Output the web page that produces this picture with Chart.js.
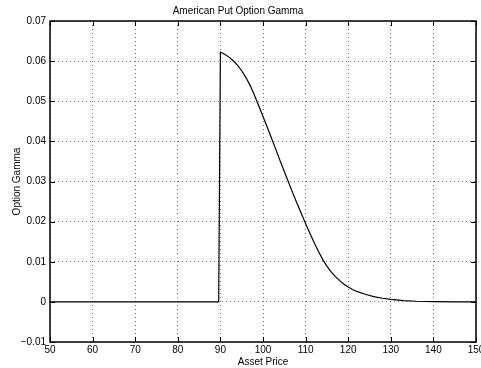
<!DOCTYPE html>
<html>
<head>
<meta charset="utf-8">
<script src="https://cdn.jsdelivr.net/npm/chart.js@4/dist/chart.umd.min.js"></script>
<style>
  html, body { margin: 0; padding: 0; background: #fff; }
  #wrap { width: 481px; height: 368px; }
</style>
</head>
<body>
<div id="wrap"><canvas id="gammaChart" width="481" height="368"></canvas></div>
<script>
// asset price (x) and gamma (y)
const assetPrice = [50, 89.6, 90, 91, 92, 93, 94, 95, 96, 97, 98, 99, 100, 101, 102, 103, 104, 105,
  106, 107, 108, 109, 110, 111, 112, 113, 114, 115, 116, 117, 118, 119, 120, 121, 122, 124, 126, 128,
  130, 133, 136, 140, 145, 150];
const gamma = [0, 0, 0.0622, 0.0617, 0.0610, 0.0601, 0.0590, 0.0576, 0.0559, 0.0539, 0.0515, 0.0489,
  0.0462, 0.0435, 0.0408, 0.0380, 0.0352, 0.0325, 0.0298, 0.0271, 0.0245, 0.0220, 0.0195, 0.0171,
  0.0148, 0.0126, 0.0106, 0.0089, 0.0075, 0.0063, 0.0053, 0.0044, 0.0037, 0.0031, 0.0026, 0.0019,
  0.0013, 0.0009, 0.0006, 0.0003, 0.00015, 0.00006, 0.00001, 0];

const xTicks = [50, 60, 70, 80, 90, 100, 110, 120, 130, 140, 150];
const yTicks = [-0.01, 0, 0.01, 0.02, 0.03, 0.04, 0.05, 0.06, 0.07];

const FONT = "'Liberation Sans', Arial, Helvetica, sans-serif";

// MATLAB style box with inward ticks
const boxTicks = {
  id: "boxTicks",
  afterDraw(chart) {
    const { ctx, chartArea: a, scales } = chart;
    ctx.save();
    ctx.strokeStyle = "#000";
    ctx.lineWidth = 1;
    ctx.beginPath();
    for (const v of xTicks) {
      const px = Math.round(scales.x.getPixelForValue(v)) + 0.5;
      ctx.moveTo(px, a.bottom); ctx.lineTo(px, a.bottom - 5);
      ctx.moveTo(px, a.top); ctx.lineTo(px, a.top + 5);
    }
    for (const v of yTicks) {
      const py = Math.round(scales.y.getPixelForValue(v)) + 0.5;
      ctx.moveTo(a.left, py); ctx.lineTo(a.left + 5, py);
      ctx.moveTo(a.right, py); ctx.lineTo(a.right - 5, py);
    }
    ctx.stroke();
    ctx.lineWidth = 1.5;
    ctx.strokeRect(a.left, a.top, a.right - a.left, a.bottom - a.top);
    ctx.restore();
  }
};

new Chart(document.getElementById("gammaChart"), {
  type: "line",
  data: {
    datasets: [{
      data: assetPrice.map((x, i) => ({ x, y: gamma[i] })),
      borderColor: "#000",
      borderWidth: 1.2,
      pointRadius: 0,
      tension: 0,
      fill: false
    }]
  },
  options: {
    responsive: false,
    animation: false,
    layout: { padding: { left: 0, right: 5, top: 0, bottom: 0 } },
    plugins: {
      legend: { display: false },
      tooltip: { enabled: false },
      title: {
        display: true,
        text: "American Put Option Gamma",
        color: "#000",
        font: { family: FONT, size: 10, weight: "normal" },
        padding: { top: 5, bottom: 4 }
      }
    },
    scales: {
      x: {
        type: "linear",
        min: 50, max: 150,
        afterBuildTicks: s => { s.ticks = xTicks.map(value => ({ value })); },
        afterFit: s => { s.height = 26; s.paddingLeft = 0; s.paddingRight = 0; },
        grid: { color: "rgba(0,0,0,0.55)", lineWidth: 1, drawTicks: false },
        border: { display: false, dash: [1, 3] },
        ticks: { color: "#000", font: { family: FONT, size: 10 }, padding: 2, maxRotation: 0 },
        title: {
          display: true, text: "Asset Price", color: "#000",
          font: { family: FONT, size: 10 }, padding: { top: 0, bottom: 0 }
        }
      },
      y: {
        type: "linear",
        min: -0.01, max: 0.07,
        afterBuildTicks: s => { s.ticks = yTicks.map(value => ({ value })); },
        afterFit: s => { s.width = 50; s.paddingTop = 0; s.paddingBottom = 0; },
        grid: { color: "rgba(0,0,0,0.55)", lineWidth: 1, drawTicks: false },
        border: { display: false, dash: [1, 3] },
        ticks: {
          color: "#000", font: { family: FONT, size: 10 }, padding: 4,
          callback: v => Math.abs(v) < 1e-9 ? "0" : (v < 0 ? "\u2212" + Math.abs(v).toFixed(2) : v.toFixed(2))
        },
        title: {
          display: true, text: "Option Gamma", color: "#000",
          font: { family: FONT, size: 10 }, padding: { top: 11, bottom: 0 }
        }
      }
    }
  },
  plugins: [boxTicks]
});
</script>
</body>
</html>
